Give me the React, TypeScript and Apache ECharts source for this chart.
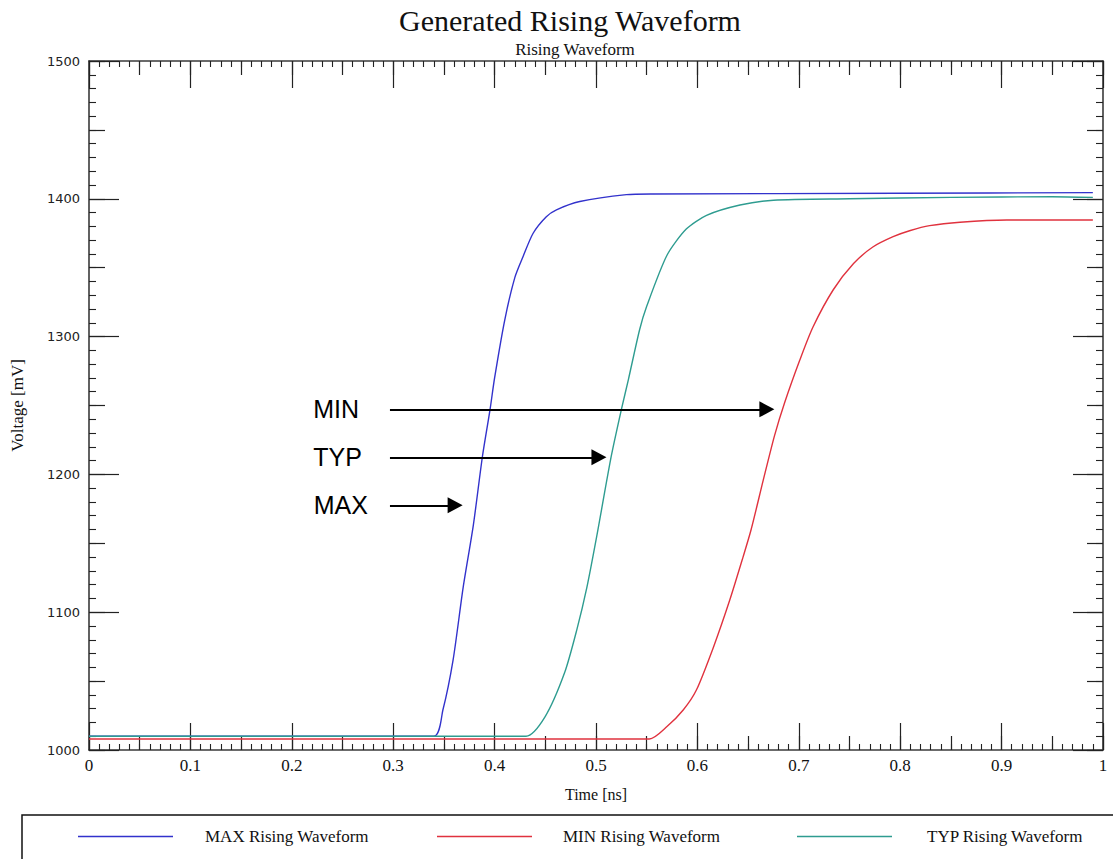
import React, { useEffect, useRef } from "react";
import * as echarts from "echarts";

// ---- data ----
const maxTimes = [0, 0.34, 0.349, 0.359, 0.369, 0.379, 0.388, 0.3955, 0.4, 0.41, 0.42, 0.428, 0.438, 0.451, 0.461, 0.484, 0.53, 0.556, 0.8, 0.99];
const maxValues = [1010, 1010, 1029, 1065, 1118, 1163, 1213, 1247, 1270, 1312, 1343, 1358, 1375, 1387, 1392, 1398, 1403, 1403.5, 1404, 1404.5];

const typTimes = [0, 0.431, 0.4497, 0.469, 0.481, 0.491, 0.5007, 0.515, 0.525, 0.532, 0.543, 0.55, 0.57, 0.589, 0.609, 0.642, 0.675, 0.75, 0.85, 0.95, 0.99];
const typValues = [1010, 1010, 1024, 1056, 1087, 1118, 1155, 1213, 1247, 1269, 1305, 1322, 1359, 1378, 1388, 1395.5, 1399, 1400, 1401, 1401.5, 1401];

const minTimes = [0, 0.5526, 0.57, 0.586, 0.599, 0.616, 0.632, 0.645, 0.653, 0.665, 0.676, 0.686, 0.701, 0.714, 0.734, 0.754, 0.773, 0.793, 0.81, 0.829, 0.859, 0.905, 0.99];
const minValues = [1008, 1008, 1017, 1029, 1043.5, 1075, 1109, 1140, 1160, 1196, 1228, 1252, 1283, 1307, 1334, 1353, 1365, 1372.5, 1377, 1380.5, 1383, 1384.6, 1384.6];

const seriesNames = ["MAX Rising Waveform", "MIN Rising Waveform", "TYP Rising Waveform"];

// annotation arrows
const arrowLabels = ["MIN", "TYP", "MAX"];
const arrowStart = [0.2968, 0.2968, 0.2968];
const arrowEnd = [0.6755, 0.5099, 0.3681];
const arrowLevel = [1247.2, 1212.4, 1177.6];

const xTickMajor = 0.1;
const xTickMid = 0.05;
const yTickMajor = 100;
const yTickMid = 50;

const zip = (t: number[], v: number[]) => t.map((x, i) => [x, v[i]]);

const AXIS_COLOR = "#3a3a3a";
const SERIF = "'Liberation Serif', 'Times New Roman', serif";
const SANS = "'DejaVu Sans', Verdana, sans-serif";

function makeX(position: "top" | "bottom", interval: number, len: number, main: boolean, labels: boolean) {
  return {
    type: "value",
    position,
    min: 0,
    max: 1,
    interval,
    axisLine: { show: main, onZero: false, lineStyle: { color: AXIS_COLOR, width: 1.6 } },
    axisTick: { show: true, inside: true, length: len, lineStyle: { color: "#222", width: 1.2 } },
    minorTick: { show: main, splitNumber: 10, length: 6, lineStyle: { color: "#222", width: 1.1 } },
    splitLine: { show: false },
    axisLabel: {
      show: labels,
      margin: 7,
      fontSize: 17,
      fontFamily: SERIF,
      color: "#111",
    },
    ...(labels
      ? {
          name: "Time [ns]",
          nameLocation: "middle",
          nameGap: 36,
          nameTextStyle: { fontSize: 16, fontFamily: SERIF, color: "#111" },
        }
      : {}),
  };
}

function makeY(position: "left" | "right", interval: number, len: number, main: boolean, labels: boolean) {
  return {
    type: "value",
    position,
    min: 1000,
    max: 1500,
    interval,
    axisLine: { show: main, onZero: false, lineStyle: { color: AXIS_COLOR, width: 1.6 } },
    axisTick: { show: true, inside: true, length: len, lineStyle: { color: "#222", width: 1.2 } },
    minorTick: { show: main, splitNumber: 10, length: 7, lineStyle: { color: "#222", width: 1.1 } },
    splitLine: { show: false },
    axisLabel: {
      show: labels,
      margin: 9,
      fontSize: 13,
      fontFamily: SANS,
      color: "#222",
      formatter: (v: number) => String(v),
    },
    ...(labels
      ? {
          name: "Voltage [mV]",
          nameLocation: "middle",
          nameRotate: 90,
          nameGap: 63,
          nameTextStyle: { fontSize: 17, fontFamily: SERIF, color: "#111" },
        }
      : {}),
  };
}

const labelDistance = [31, 28, 22];

function arrowMark(i: number) {
  return {
    silent: true,
    symbol: ["none", "triangle"],
    symbolSize: [16, 15],
    lineStyle: { color: "#000", width: 2, type: "solid" },
    label: {
      show: true,
      position: "start",
      distance: labelDistance[i],
      formatter: arrowLabels[i],
      fontSize: 25,
      fontFamily: "'Liberation Sans', Arial, sans-serif",
      color: "#000",
    },
    data: [[{ coord: [arrowStart[i], arrowLevel[i]] }, { coord: [arrowEnd[i] - 0.007, arrowLevel[i]] }]],
  };
}

function makeLegend(name: string, left: number, pad: number) {
  return {
    data: [name],
    left,
    top: 828,
    padding: 0,
    icon: "rect",
    itemWidth: 95,
    itemHeight: 1.5,
    selectedMode: false,
    textStyle: { fontSize: 17, fontFamily: SERIF, color: "#111", padding: [0, 0, 0, pad] },
  };
}

export default function App() {
  const ref = useRef<HTMLDivElement>(null);

  useEffect(() => {
    if (!ref.current) return;
    const chart = echarts.init(ref.current, null, { renderer: "svg" });
    const option: any = {
      animation: false,
      backgroundColor: "#fff",
      textStyle: { fontFamily: SERIF },
      title: [
        {
          text: "Generated Rising Waveform",
          left: 570,
          top: 5,
          textAlign: "center",
          padding: 0,
          textStyle: { fontSize: 30, fontWeight: "normal", fontFamily: SERIF, color: "#111" },
        },
        {
          text: "Rising Waveform",
          left: 575,
          top: 41,
          textAlign: "center",
          padding: 0,
          textStyle: { fontSize: 17, fontWeight: "normal", fontFamily: SERIF, color: "#111" },
        },
      ],
      grid: { left: 89, right: 10, top: 61, bottom: 109, containLabel: false },
      xAxis: [
        makeX("bottom", xTickMajor, 27, true, true),
        makeX("bottom", xTickMid, 14, false, false),
        makeX("top", xTickMajor, 27, true, false),
        makeX("top", xTickMid, 14, false, false),
      ],
      yAxis: [
        makeY("left", yTickMajor, 30, true, true),
        makeY("left", yTickMid, 16, false, false),
        makeY("right", yTickMajor, 30, true, false),
        makeY("right", yTickMid, 16, false, false),
      ],
      legend: [makeLegend(seriesNames[0], 78, 27), makeLegend(seriesNames[1], 437, 26), makeLegend(seriesNames[2], 797, 30)],
      graphic: [
        {
          type: "rect",
          shape: { x: 22, y: 815, width: 1200, height: 100 },
          style: { fill: "none", stroke: "#111", lineWidth: 1.5 },
          silent: true,
        },
      ],
      series: [
        {
          name: seriesNames[0],
          type: "line",
          data: zip(maxTimes, maxValues),
          symbol: "none",
          smooth: 0.25,
          color: "#3232cc",
          lineStyle: { width: 1.4, color: "#3232cc" },
          markLine: arrowMark(2),
          z: 3,
        },
        {
          name: seriesNames[1],
          type: "line",
          data: zip(minTimes, minValues),
          symbol: "none",
          smooth: 0.25,
          color: "#e0323e",
          lineStyle: { width: 1.4, color: "#e0323e" },
          markLine: arrowMark(0),
          z: 3,
        },
        {
          name: seriesNames[2],
          type: "line",
          data: zip(typTimes, typValues),
          symbol: "none",
          smooth: 0.25,
          color: "#2e9c90",
          lineStyle: { width: 1.4, color: "#2e9c90" },
          markLine: arrowMark(1),
          z: 3,
        },
      ],
    };
    chart.setOption(option);
    return () => chart.dispose();
  }, []);

  return (
    <div
      ref={ref}
      style={{ position: "absolute", left: 0, top: 0, width: 1113, height: 859, background: "#fff" }}
    />
  );
}
